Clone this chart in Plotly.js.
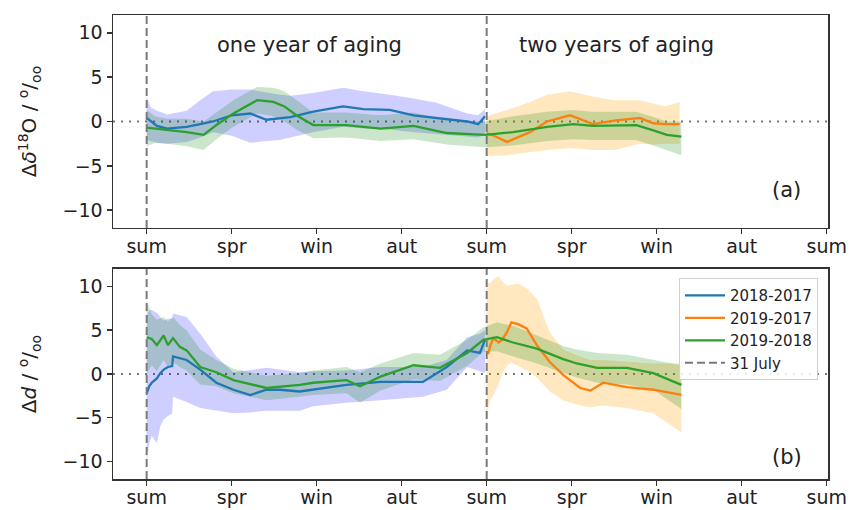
<!DOCTYPE html>
<html>
<head>
<meta charset="utf-8">
<script src="https://cdn.plot.ly/plotly-3.0.1.min.js"></script>
<style>html,body{margin:0;padding:0;background:#fff;}#chart{width:850px;height:510px;}</style>
</head>
<body>
<div id="chart"></div>
<script>
// season ticks (x in units of seasons since 31 July)
const tickVals = [0, 1, 2, 3, 4, 5, 6, 7, 8];
const tickText = ['sum', 'spr', 'win', 'aut', 'sum', 'spr', 'win', 'aut', 'sum'];
const julyMarks = [0, 4];
const seriesNames = ['2018-2017', '2019-2017', '2019-2018'];

// Panel (a): Δδ18O
const aBlueX  = [0, 0.05, 0.12, 0.24, 0.47, 0.63, 0.78, 1.0, 1.22, 1.41, 1.57, 1.69, 1.96, 2.31, 2.55, 2.86, 3.14, 3.41, 3.77, 3.90, 3.98];
const aBlueY  = [0.4, 0.0, -0.5, -0.8, -0.6, -0.3, 0.0, 0.7, 0.9, 0.2, 0.4, 0.5, 1.1, 1.7, 1.4, 1.3, 0.7, 0.4, 0.0, -0.3, 0.6];
const aBlueHi = [2.8, 1.6, 1.2, 0.8, 1.2, 2.4, 3.4, 3.6, 3.6, 3.3, 3.0, 2.9, 3.2, 3.8, 3.4, 3.0, 2.6, 2.1, 0.9, 0.7, 1.4];
const aBlueLo = [-2.1, -2.2, -2.4, -2.5, -2.3, -1.8, -1.2, -1.6, -2.4, -2.2, -2.1, -1.8, -1.2, -0.6, -0.8, -0.9, -1.2, -1.4, -1.7, -1.8, -1.5];

const aOrangeX  = [4.0, 4.06, 4.24, 4.51, 4.71, 4.98, 5.25, 5.5, 5.8, 5.96, 6.1, 6.27];
const aOrangeY  = [-1.3, -1.5, -2.3, -1.2, 0.0, 0.7, -0.3, 0.1, 0.4, -0.2, -0.3, -0.3];
const aOrangeHi = [0.5, 0.8, 1.3, 2.2, 3.0, 3.4, 2.8, 2.4, 2.4, 2.0, 1.7, 2.2];
const aOrangeLo = [-3.8, -3.9, -3.8, -3.5, -3.2, -3.0, -3.2, -3.2, -2.5, -2.6, -2.5, -2.5];

const aGreenX  = [0, 0.1, 0.24, 0.47, 0.67, 0.82, 1.02, 1.3, 1.49, 1.62, 1.76, 1.96, 2.35, 2.75, 3.14, 3.53, 3.98, 4.31, 4.71, 5.02, 5.25, 5.76, 5.96, 6.12, 6.29];
const aGreenY  = [-0.7, -0.8, -1.0, -1.2, -1.5, -0.4, 0.9, 2.4, 2.2, 1.7, 0.7, -0.4, -0.4, -0.8, -0.5, -1.3, -1.5, -1.2, -0.6, -0.3, -0.5, -0.4, -1.0, -1.5, -1.7];
const aGreenHi = [1.3, 0.6, 0.3, 0.3, 0.0, 1.0, 2.4, 3.9, 3.8, 3.4, 2.4, 1.0, 1.0, 0.7, 1.0, 0.2, 0.0, 0.6, 1.1, 1.3, 1.1, 1.1, 0.5, 0.0, 0.0];
const aGreenLo = [-2.8, -2.4, -2.5, -2.8, -3.2, -2.0, -0.6, 0.9, 0.6, 0.0, -0.9, -1.9, -1.8, -2.2, -2.0, -2.6, -2.9, -2.7, -2.2, -2.0, -2.1, -2.1, -2.7, -3.2, -3.8];

// Panel (b): Δd
const bBlueX  = [0, 0.03, 0.06, 0.12, 0.16, 0.2, 0.25, 0.3, 0.31, 0.47, 0.63, 0.82, 1.02, 1.22, 1.41, 1.57, 1.8, 1.96, 2.35, 2.75, 3.25, 3.53, 3.77, 3.92, 3.98];
const bBlueY  = [-2.2, -1.4, -1.0, -0.5, 0.1, 0.5, 0.8, 0.9, 2.0, 1.6, 0.5, -1.0, -1.8, -2.4, -1.8, -1.8, -2.0, -1.8, -1.25, -0.9, -0.9, 0.8, 2.7, 2.4, 3.9];
const bBlueHi = [6.5, 7.3, 7.3, 7.0, 6.5, 6.1, 6.3, 6.3, 6.9, 6.5, 4.6, 2.0, 0.2, 0.5, 0.7, 0.5, 0.2, 0.3, 0.4, 0.8, 0.8, 1.6, 4.2, 4.6, 5.0];
const bBlueLo = [-10.1, -8.0, -7.1, -7.9, -6.0, -5.2, -4.8, -4.5, -2.6, -3.2, -3.9, -4.2, -4.5, -4.4, -4.2, -4.2, -4.2, -3.7, -3.3, -3.0, -2.6, -1.8, 0.8, 0.3, 0.1];

const bOrangeX  = [4.0, 4.02, 4.04, 4.08, 4.14, 4.18, 4.24, 4.29, 4.37, 4.47, 4.59, 4.74, 4.9, 5.1, 5.22, 5.37, 5.65, 5.96, 6.29];
const bOrangeY  = [2.4, 2.4, 3.2, 4.1, 3.6, 3.9, 4.8, 5.9, 5.7, 5.2, 3.3, 1.4, -0.1, -1.6, -1.9, -1.0, -1.5, -1.8, -2.4];
const bOrangeHi = [10.3, 10.4, 10.4, 10.8, 11.2, 10.6, 10.1, 10.2, 10.3, 9.8, 8.6, 4.8, 2.8, 2.0, 1.6, 1.6, 1.4, 1.2, 1.25];
const bOrangeLo = [-5.8, -4.0, -3.0, -2.4, -1.2, 0.0, 1.0, 1.3, 0.9, 0.4, -0.4, -2.0, -3.0, -3.6, -3.8, -3.6, -3.9, -4.5, -6.7];

const bGreenX  = [0, 0.06, 0.12, 0.2, 0.25, 0.31, 0.39, 0.47, 0.63, 0.82, 1.02, 1.41, 1.8, 1.96, 2.35, 2.51, 2.75, 3.14, 3.45, 3.77, 3.96, 4.12, 4.31, 4.59, 4.9, 5.06, 5.3, 5.65, 5.96, 6.29];
const bGreenY  = [4.2, 4.0, 3.3, 4.4, 3.3, 4.1, 3.1, 2.7, 0.8, 0.2, -0.7, -1.6, -1.25, -1.0, -0.7, -1.4, -0.3, 1.0, 0.7, 2.4, 3.9, 4.2, 3.6, 2.9, 1.7, 1.2, 0.7, 0.7, 0.1, -1.25];
const bGreenHi = [8.4, 6.8, 6.2, 6.5, 6.0, 6.5, 5.6, 5.0, 2.8, 1.6, 0.6, -0.2, 0.1, 0.4, 0.8, 0.2, 1.2, 2.4, 2.2, 3.9, 5.3, 5.9, 5.5, 4.4, 3.2, 2.8, 2.4, 2.2, 1.6, 1.0];
const bGreenLo = [0.1, 1.0, 0.3, 1.6, 0.8, 1.4, 0.8, 0.4, -1.2, -1.4, -2.2, -3.0, -2.6, -2.4, -2.2, -3.3, -1.9, -0.6, -0.8, 0.9, 2.5, 2.6, 2.0, 1.2, 0.1, -0.4, -1.0, -1.2, -1.8, -4.0];

const lineColors = ['#1f77b4', '#ff7f0e', '#2ca02c'];
const fillColors = ['rgba(0,0,255,0.19)', 'rgba(255,165,0,0.25)', 'rgba(0,128,0,0.2)'];

const panels = [
  {xa: 'x', ya: 'y', legend: false,
   s: [[aBlueX, aBlueY, aBlueLo, aBlueHi], [aOrangeX, aOrangeY, aOrangeLo, aOrangeHi], [aGreenX, aGreenY, aGreenLo, aGreenHi]]},
  {xa: 'x2', ya: 'y2', legend: true,
   s: [[bBlueX, bBlueY, bBlueLo, bBlueHi], [bOrangeX, bOrangeY, bOrangeLo, bOrangeHi], [bGreenX, bGreenY, bGreenLo, bGreenHi]]}
];

const traces = [];
panels.forEach(p => {
  p.s.forEach((d, i) => {
    traces.push({x: d[0], y: d[2], xaxis: p.xa, yaxis: p.ya, mode: 'lines', line: {width: 0, color: fillColors[i]},
                 showlegend: false, hoverinfo: 'skip'});
    traces.push({x: d[0], y: d[3], xaxis: p.xa, yaxis: p.ya, mode: 'lines', line: {width: 0, color: fillColors[i]},
                 fill: 'tonexty', fillcolor: fillColors[i], showlegend: false, hoverinfo: 'skip'});
  });
});
panels.forEach(p => {
  const vx = [], vy = [];
  julyMarks.forEach(m => { vx.push(m, m, null); vy.push(-12, 12, null); });
  p.s.forEach((d, i) => {
    traces.push({x: d[0], y: d[1], xaxis: p.xa, yaxis: p.ya, mode: 'lines', name: seriesNames[i],
                 line: {width: 2.3, color: lineColors[i]}, showlegend: p.legend});
  });
  traces.push({x: vx, y: vy, xaxis: p.xa, yaxis: p.ya, mode: 'lines', name: '31 July',
               line: {width: 2, color: '#7a7a7a', dash: '8px,4px'}, showlegend: p.legend});
});

const font = {family: 'DejaVu Sans, sans-serif', color: '#222'};
const xax = (anchor) => ({
  range: [-0.396, 8.015], tickvals: tickVals, ticktext: tickText, ticks: 'outside', ticklen: 5, tickwidth: 1.5,
  tickcolor: '#333', showline: true, mirror: true, linecolor: '#333', linewidth: 1.5, showgrid: false, zeroline: false,
  tickfont: {size: 19}, ticklabelstandoff: -4, anchor: anchor, domain: [0, 1]
});
const yax = (dom, anchor, title) => ({
  range: [-12, 12], tickvals: [-10, -5, 0, 5, 10], ticks: 'outside', ticklen: 5, tickwidth: 1.5, tickcolor: '#333',
  showline: true, mirror: true, linecolor: '#333', linewidth: 1.5, showgrid: false, zeroline: false,
  tickfont: {size: 19}, domain: dom, anchor: anchor, title: {text: title, font: {size: 20}, standoff: 20}
});

const layout = {
  width: 850, height: 510, font: font, paper_bgcolor: '#fff', plot_bgcolor: '#fff',
  margin: {l: 113, r: 22, t: 15, b: 31},
  showlegend: true,
  xaxis: xax('y'), xaxis2: xax('y2'),
  yaxis: yax([0.541, 1], 'x', 'Δ<i>δ</i><sup>18</sup>O / <sup>o</sup>/<sub>oo</sub>'),
  yaxis2: yax([0, 0.4526], 'x2', 'Δ<i>d</i> / <sup>o</sup>/<sub>oo</sub>'),
  legend: {x: 0.986, xanchor: 'right', y: 0.433, yanchor: 'top', bgcolor: 'rgba(255,255,255,0.85)', bordercolor: '#d0d0d0',
           borderwidth: 1, font: {size: 15}, itemwidth: 40, tracegroupgap: 0, traceorder: 'normal'},
  shapes: [
    {type: 'line', xref: 'x domain', yref: 'y', x0: 0, x1: 1, y0: 0, y1: 0, line: {color: '#777', width: 2, dash: '2px,6px'}, layer: 'below'},
    {type: 'line', xref: 'x2 domain', yref: 'y2', x0: 0, x1: 1, y0: 0, y1: 0, line: {color: '#777', width: 2, dash: '2px,6px'}, layer: 'below'}
  ],
  annotations: [
    {xref: 'x', yref: 'y domain', x: 1.92, y: 0.86, xanchor: 'center', yanchor: 'middle', text: 'one year of aging', showarrow: false, font: {size: 21}},
    {xref: 'x', yref: 'y domain', x: 5.53, y: 0.86, xanchor: 'center', yanchor: 'middle', text: 'two years of aging', showarrow: false, font: {size: 21}},
    {xref: 'x', yref: 'y domain', x: 7.53, y: 0.178, xanchor: 'center', yanchor: 'middle', text: '(a)', showarrow: false, font: {size: 21}},
    {xref: 'x2', yref: 'y2 domain', x: 7.53, y: 0.105, xanchor: 'center', yanchor: 'middle', text: '(b)', showarrow: false, font: {size: 21}}
  ]
};

Plotly.newPlot('chart', traces, layout, {displayModeBar: false, staticPlot: true});
</script>
</body>
</html>
